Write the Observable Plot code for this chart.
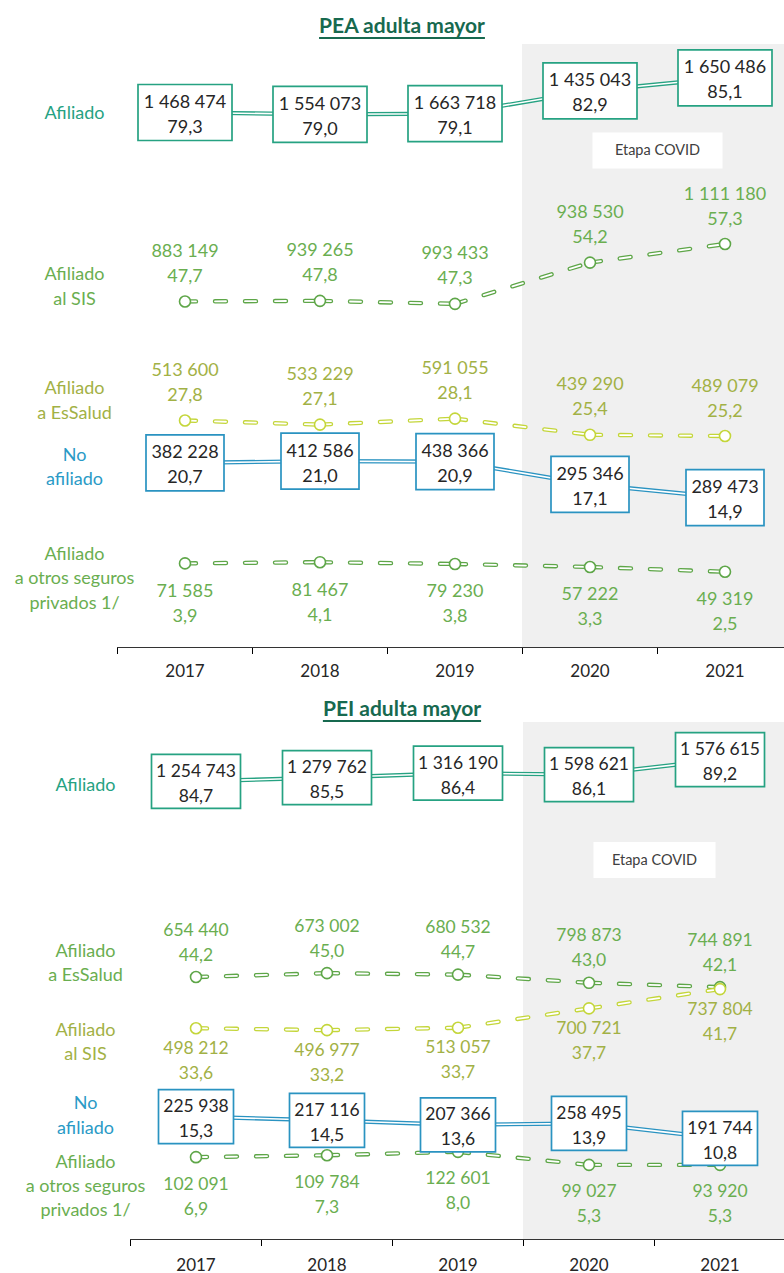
<!DOCTYPE html>
<html><head><meta charset="utf-8">
<script src="https://cdn.jsdelivr.net/npm/d3@7"></script>
<script src="https://cdn.jsdelivr.net/npm/@observablehq/plot@0.6"></script>
<style>
html,body{margin:0;padding:0;background:#fff;overflow:hidden;width:784px;height:1273px;}
.title{position:absolute;left:20px;width:764px;text-align:center;font-family:Lato,sans-serif;font-weight:700;font-size:21px;line-height:24px;color:#17694f;text-decoration:underline;text-decoration-thickness:2px;text-underline-offset:4px;}
.panel{position:absolute;left:0;}
</style>
</head><body>
<div class="title" style="top:13px">PEA adulta mayor</div>
<div id="p1" class="panel" style="top:40px"></div>
<div class="title" style="top:696px">PEI adulta mayor</div>
<div id="p2" class="panel" style="top:720px"></div>
<script>
// ---------- data ----------
const years = [2017, 2018, 2019, 2020, 2021];
const covidYears = [2020, 2021];

// PEA adulta mayor
const peaAfiliadoN   = [1468474, 1554073, 1663718, 1435043, 1650486];
const peaAfiliadoPct = [79.3, 79.0, 79.1, 82.9, 85.1];
const peaSisN        = [883149, 939265, 993433, 938530, 1111180];
const peaSisPct      = [47.7, 47.8, 47.3, 54.2, 57.3];
const peaEsSaludN    = [513600, 533229, 591055, 439290, 489079];
const peaEsSaludPct  = [27.8, 27.1, 28.1, 25.4, 25.2];
const peaNoAfN       = [382228, 412586, 438366, 295346, 289473];
const peaNoAfPct     = [20.7, 21.0, 20.9, 17.1, 14.9];
const peaOtrosN      = [71585, 81467, 79230, 57222, 49319];
const peaOtrosPct    = [3.9, 4.1, 3.8, 3.3, 2.5];

// PEI adulta mayor
const peiAfiliadoN   = [1254743, 1279762, 1316190, 1598621, 1576615];
const peiAfiliadoPct = [84.7, 85.5, 86.4, 86.1, 89.2];
const peiEsSaludN    = [654440, 673002, 680532, 798873, 744891];
const peiEsSaludPct  = [44.2, 45.0, 44.7, 43.0, 42.1];
const peiSisN        = [498212, 496977, 513057, 700721, 737804];
const peiSisPct      = [33.6, 33.2, 33.7, 37.7, 41.7];
const peiNoAfN       = [225938, 217116, 207366, 258495, 191744];
const peiNoAfPct     = [15.3, 14.5, 13.6, 13.9, 10.8];
const peiOtrosN      = [102091, 109784, 122601, 99027, 93920];
const peiOtrosPct    = [6.9, 7.3, 8.0, 5.3, 5.3];

// ---------- styles ----------
const TEAL = "#26a282", BLUE = "#2a93c1", BLUE_T = "#2a9ac6";
const GREEN = "#5ea648", GREEN_T = "#6aae50";
const LIME = "#c4d63a", OLIVE_T = "#a2b145";
const DARK = "#262626";

const loc = d3.formatLocale({decimal: ",", thousands: " ", grouping: [3], currency: ["", ""]});
const fmtN = loc.format(",d");
const fmtP = v => v.toFixed(1).replace(".", ",");

function rows(n, p) {
  return years.map((year, i) => ({year, n: n[i], pct: p[i], label: fmtN(n[i]) + "\n" + fmtP(p[i])}));
}
function pairs(r) { return r.slice(1).map((d, i) => ({a: r[i], b: d})); }
function rectSymbol(w, h) {
  return {draw(ctx) {
    ctx.moveTo(-w / 2, -h / 2); ctx.lineTo(w / 2, -h / 2);
    ctx.lineTo(w / 2, h / 2); ctx.lineTo(-w / 2, h / 2); ctx.closePath();
  }};
}

function panel(cfg) {
  const marks = [];
  const covid = {start: covidYears[0] - 0.5, end: covidYears[covidYears.length - 1] + 0.5};
  covid.mid = (covidYears[0] + covidYears[covidYears.length - 1]) / 2;
  marks.push(Plot.rect([covid], {x1: "start", x2: "end", fill: "#f0f0f0"}));
  marks.push(Plot.dot([covid], {x: "mid", frameAnchor: "top", dy: cfg.covidDy, symbol: rectSymbol(cfg.covidW, 36), r: 10, fill: "white", stroke: "none"}));
  marks.push(Plot.text([covid], {x: "mid", frameAnchor: "top", lineAnchor: "middle", dy: cfg.covidDy, text: () => "Etapa COVID", fill: "#404040", fontSize: 14.5}));

  // dashed series first
  for (const s of cfg.series.filter(s => s.kind === "dash")) {
    const r = rows(s.n, s.p);
    const pr = pairs(r);
    const link = {x1: d => d.a.year, y1: d => d.a.pct, x2: d => d.b.year, y2: d => d.b.pct, strokeDasharray: "11,19", strokeLinecap: "round"};
    marks.push(Plot.link(pr, {...link, stroke: s.color, strokeWidth: 4.4}));
    marks.push(Plot.link(pr, {...link, stroke: "white", strokeWidth: 1.8}));
    marks.push(Plot.dot(r, {x: "year", y: "pct", r: 5.5, fill: "white", stroke: s.color, strokeWidth: 1.6}));
    marks.push(Plot.text(r, {x: "year", y: "pct", text: "label", dy: s.labelDy, fill: s.text, fontSize: cfg.fs, lineHeight: cfg.lh}));
  }
  for (const s of cfg.series.filter(s => s.kind === "box")) {
    const r = rows(s.n, s.p);
    const len = d3.max(r, d => fmtN(d.n).length);
    const w = len * cfg.charW + cfg.pad;
    marks.push(Plot.line(r, {x: "year", y: "pct", stroke: s.color, strokeWidth: 4.2}));
    marks.push(Plot.line(r, {x: "year", y: "pct", stroke: "white", strokeWidth: 1.6}));
    marks.push(Plot.dot(r, {x: "year", y: "pct", symbol: rectSymbol(w, cfg.boxH), r: 10, fill: "white", stroke: s.color, strokeWidth: 1.7}));
    marks.push(Plot.text(r, {x: "year", y: "pct", text: "label", fill: DARK, fontSize: cfg.fs, lineHeight: cfg.lh}));
  }
  // row labels
  for (const s of cfg.series) {
    marks.push(Plot.text([s], {y: d => d.p[0], frameAnchor: "left", lineAnchor: "middle", dx: cfg.labelDx, dy: s.rowDy, text: "name", fill: s.text, fontSize: 18, lineHeight: 1.36, textAnchor: "middle"}));
  }
  // axis
  marks.push(Plot.frame({anchor: "bottom", stroke: "#333"}));
  marks.push(Plot.text(years, {x: d => d, frameAnchor: "bottom", lineAnchor: "middle", dy: cfg.yearDy, text: d => String(d), fill: DARK, fontSize: 17, fontWeight: 400}));

  const x0 = years[0] - 0.5, x1 = years[years.length - 1] + 0.5;
  return Plot.plot({
    width: 784, height: cfg.height,
    marginLeft: cfg.left, marginRight: 0, marginTop: cfg.top, marginBottom: cfg.bottom,
    style: {fontFamily: "Lato, sans-serif", background: "transparent", overflow: "visible"},
    x: {type: "linear", domain: [x0, x1], range: [cfg.left, cfg.left + 5 * cfg.band],
        ticks: years.map(y => y - 0.5), tickSize: 7, tickFormat: () => "", label: null},
    y: {domain: [0, 90], range: cfg.yRange, axis: null},
    marks
  });
}

const p1 = panel({
  height: 650, top: 4, bottom: 43, left: 117, band: 135, yRange: [546.2, 8],
  fs: 18, lh: 1.39, charW: 8, pad: 22, boxH: 56, covidDy: 106, covidW: 130, labelDx: -43, yearDy: 24,
  series: [
    {name: "Afiliado", n: peaAfiliadoN, p: peaAfiliadoPct, kind: "box", color: TEAL, text: TEAL, rowDy: -1},
    {name: "Afiliado\nal SIS", n: peaSisN, p: peaSisPct, kind: "dash", color: GREEN, text: GREEN_T, labelDy: -40, rowDy: -17},
    {name: "Afiliado\na EsSalud", n: peaEsSaludN, p: peaEsSaludPct, kind: "dash", color: LIME, text: OLIVE_T, labelDy: -40, rowDy: -22},
    {name: "No\nafiliado", n: peaNoAfN, p: peaNoAfPct, kind: "box", color: BLUE, text: BLUE_T, rowDy: 2},
    {name: "Afiliado\na otros seguros\nprivados 1/", n: peaOtrosN, p: peaOtrosPct, kind: "dash", color: GREEN, text: GREEN_T, labelDy: 38, rowDy: 13}
  ]
});
document.getElementById("p1").append(p1);

const p2 = panel({
  height: 553, top: 2, bottom: 34, left: 130, band: 131, yRange: [470, 35.3],
  fs: 17.5, lh: 1.43, charW: 7, pad: 26, boxH: 54, covidDy: 137.5, covidW: 122, labelDx: -45, yearDy: 26,
  series: [
    {name: "Afiliado", n: peiAfiliadoN, p: peiAfiliadoPct, kind: "box", color: TEAL, text: TEAL, rowDy: 2},
    {name: "Afiliado\na EsSalud", n: peiEsSaludN, p: peiEsSaludPct, kind: "dash", color: GREEN, text: GREEN_T, labelDy: -37, rowDy: -16},
    {name: "Afiliado\nal SIS", n: peiSisN, p: peiSisPct, kind: "dash", color: LIME, text: OLIVE_T, labelDy: 30, rowDy: 12},
    {name: "No\nafiliado", n: peiNoAfN, p: peiNoAfPct, kind: "box", color: BLUE, text: BLUE_T, rowDy: -3},
    {name: "Afiliado\na otros seguros\nprivados 1/", n: peiOtrosN, p: peiOtrosPct, kind: "dash", color: GREEN, text: GREEN_T, labelDy: 37, rowDy: 27}
  ]
});
document.getElementById("p2").append(p2);
</script>
</body></html>
